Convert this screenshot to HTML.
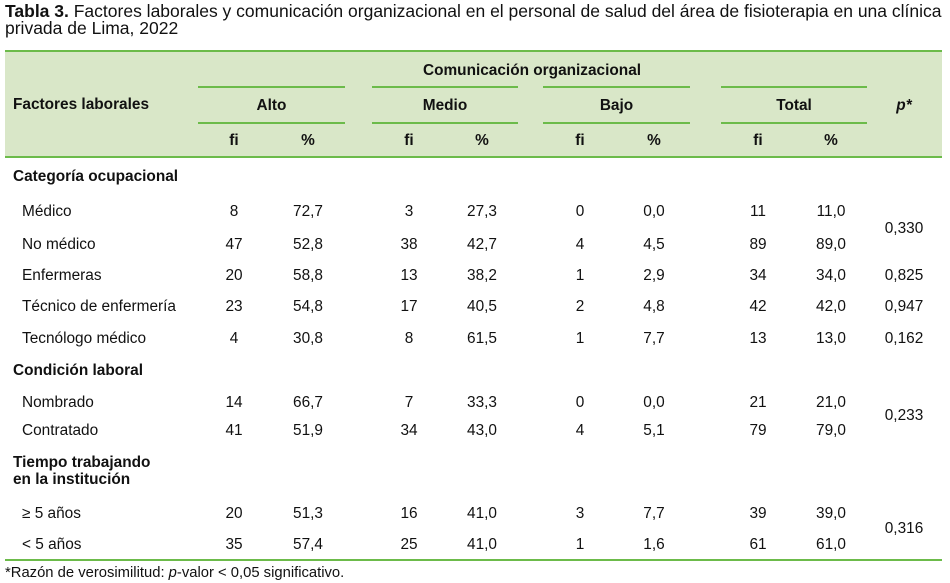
<!DOCTYPE html>
<html><head><meta charset="utf-8">
<style>
body{margin:0;width:950px;height:583px;background:#fff;position:relative;overflow:hidden;font-family:"Liberation Sans",sans-serif;color:#111;}
.t{position:absolute;white-space:nowrap;font-size:15.4px;line-height:18px;}
.c{transform:translateX(-50%);}
.b{font-weight:bold;}
.hl{position:absolute;height:2px;background:#6cbb4a;}
#hdr{position:absolute;left:5px;top:51px;width:937px;height:106px;background:#d9e7c8;}
</style></head><body>
<div class="t" style="left:5px;top:3px;font-size:17.5px;line-height:17px;"><b>Tabla 3.</b> Factores laborales y comunicación organizacional en el personal de salud del área de fisioterapia en una clínica</div>
<div class="t" style="left:5px;top:20px;font-size:17.5px;line-height:17px;">privada de Lima, 2022</div>
<div id="hdr"></div>
<div class="hl" style="left:5px;top:50px;width:937px;"></div>
<div class="hl" style="left:5px;top:156px;width:937px;"></div>
<div class="hl" style="left:5px;top:559px;width:937px;"></div>
<div class="t b c" style="left:532px;top:62px;">Comunicación organizacional</div>
<div class="t b" style="left:13px;top:96px;">Factores laborales</div>
<div class="t b c" style="left:904px;top:97px;font-style:italic;">p*</div>
<div id="root"></div>
<div class="t" style="left:5px;top:564px;font-size:14.8px;">*Razón de verosimilitud: <i>p</i>-valor &lt; 0,05 significativo.</div>
<script>
const groups=["Alto","Medio","Bajo","Total"];
const groupSpans=[[198,345],[372,518],[543,690],[721,867]];
const colX=[234,308,409,482,580,654,758,831];
const labels=["Médico","No médico","Enfermeras","Técnico de enfermería","Tecnólogo médico","Nombrado","Contratado","≥ 5 años","< 5 años"];
const rowY=[211,244,275,306,338,402,430,513,544];
const values=[
["8","72,7","3","27,3","0","0,0","11","11,0"],
["47","52,8","38","42,7","4","4,5","89","89,0"],
["20","58,8","13","38,2","1","2,9","34","34,0"],
["23","54,8","17","40,5","2","4,8","42","42,0"],
["4","30,8","8","61,5","1","7,7","13","13,0"],
["14","66,7","7","33,3","0","0,0","21","21,0"],
["41","51,9","34","43,0","4","5,1","79","79,0"],
["20","51,3","16","41,0","3","7,7","39","39,0"],
["35","57,4","25","41,0","1","1,6","61","61,0"]];
const pVals=["0,330","0,825","0,947","0,162","0,233","0,316"];
const pY=[228,275,306,338,415,528];
const sections=["Categoría ocupacional","Condición laboral","Tiempo trabajando","en la institución"];
const sectionY=[176,370,462,479];
const root=document.getElementById('root');
function mk(txt,x,y,cls){const d=document.createElement('div');d.className='t '+cls;d.textContent=txt;d.style.left=x+'px';d.style.top=(y-8)+'px';root.appendChild(d);return d;}
groups.forEach((g,i)=>{
 const s=groupSpans[i];
 const d=mk(g,(s[0]+s[1])/2,105,'b c');
 
 
 [86,122].forEach(y=>{const l=document.createElement('div');l.className='hl';l.style.left=s[0]+'px';l.style.width=(s[1]-s[0])+'px';l.style.top=y+'px';
 
 
 root.appendChild(l);});
 ['fi','%'].forEach((h,j)=>{const e=mk(h,colX[i*2+j],140,'b c');
 
 });
});
sections.forEach((s,i)=>{const d=mk(s,13,sectionY[i],'b');
 
 });
labels.forEach((l,i)=>{const d=mk(l,22,rowY[i],'');
 
 
 values[i].forEach((v,j)=>{const e=mk(v,colX[j],rowY[i],'c');
 
 });
});
pVals.forEach((p,i)=>{const d=mk(p,904,pY[i],'c');
 
 });
</script>
</body></html>
